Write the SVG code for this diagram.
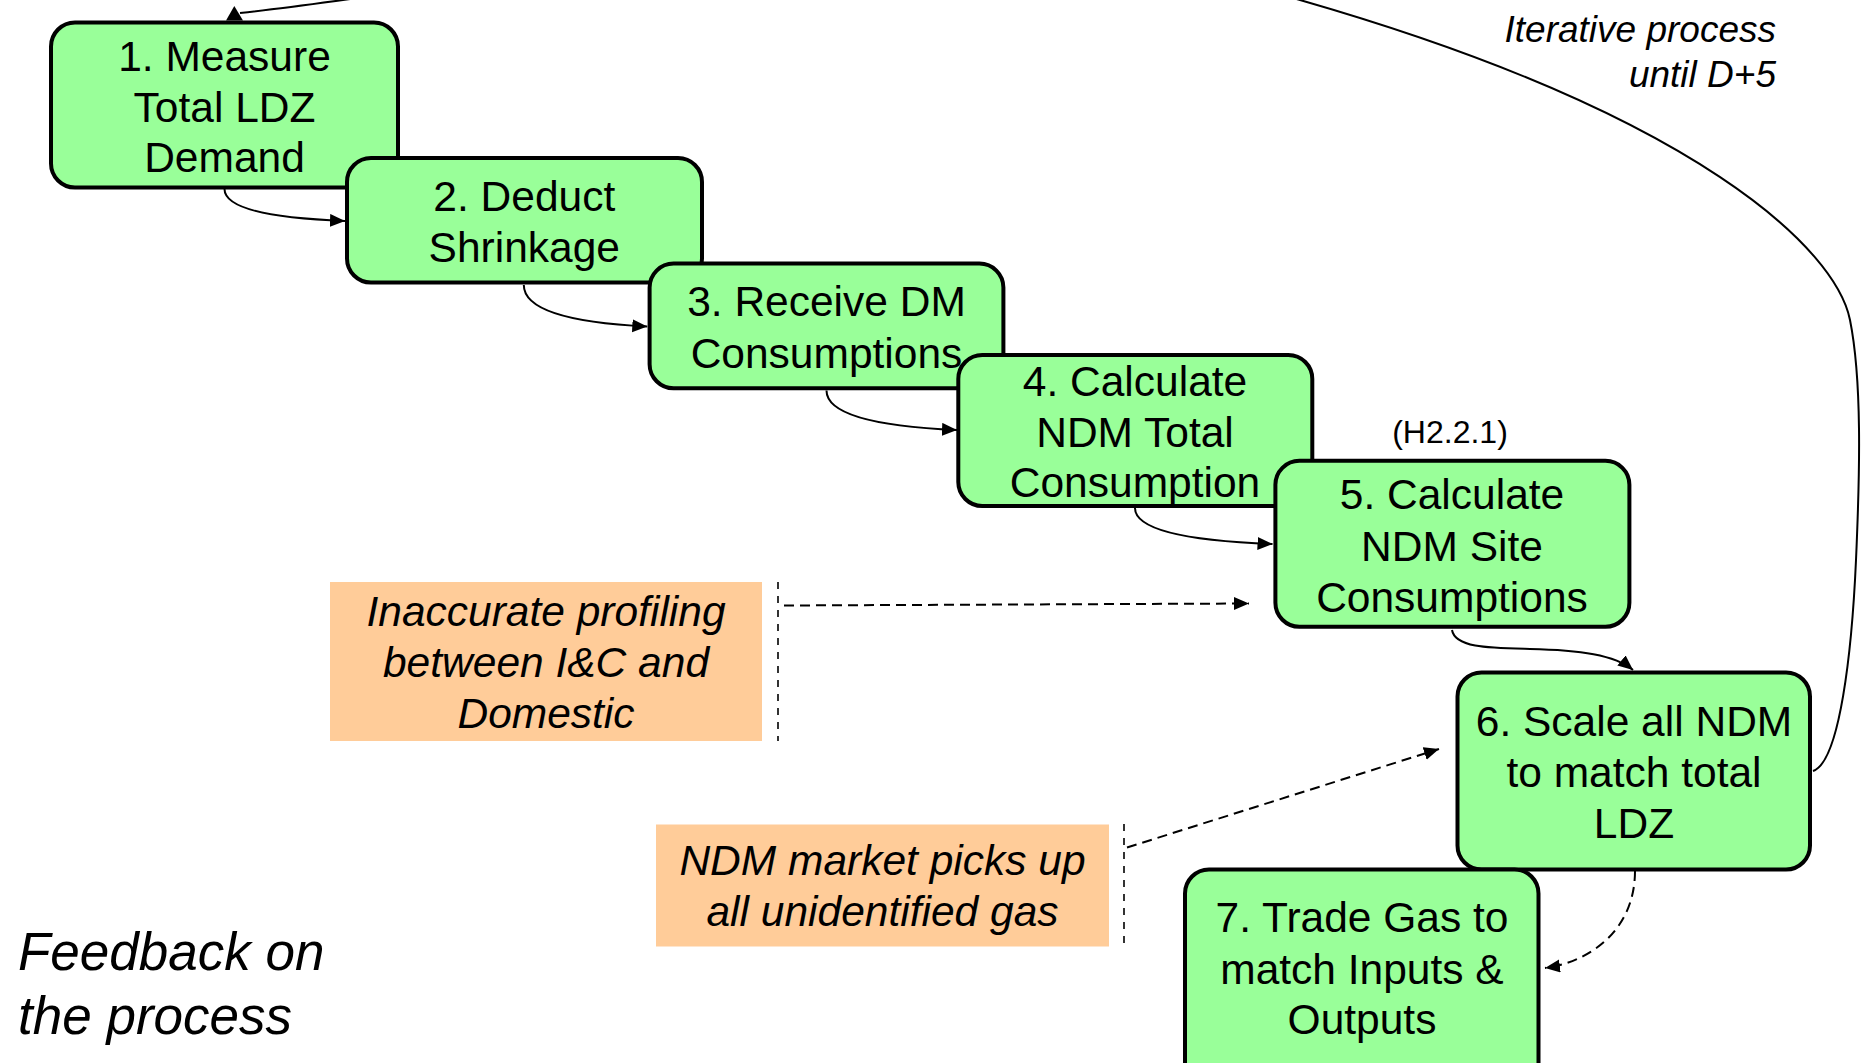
<svg xmlns="http://www.w3.org/2000/svg" width="1862" height="1063" viewBox="0 0 1862 1063">
<defs>
<style>
.box{fill:#99FF99;stroke:#000;stroke-width:4}
.note{fill:#FFCC99;stroke:none}
.t{font-family:"Liberation Sans",Arial,Helvetica,sans-serif;font-size:42.5px;fill:#000;text-anchor:middle}
.i{font-family:"Liberation Sans",Arial,Helvetica,sans-serif;font-style:italic;fill:#000}
.c{fill:none;stroke:#000;stroke-width:2}
.d{fill:none;stroke:#000;stroke-width:2;stroke-dasharray:10 6}
.v{fill:none;stroke:#000;stroke-width:1.6;stroke-dasharray:7 7}
</style>
<marker id="ah" markerUnits="userSpaceOnUse" markerWidth="16" markerHeight="14" refX="15" refY="6.5" orient="auto">
<path d="M0,0 L15,6.5 L0,13 z" fill="#000"/>
</marker>
</defs>
<rect width="1862" height="1063" fill="#fff"/>

<g id="connectors">
<path class="c" d="M1813,771 C1840,762 1852,650 1856,560 C1860,470 1862,380 1850,320 C1836,250 1700,115 1300,0 C900,-115 540,-19.5 240,13"/>
<polygon points="234.3,6 226,20.5 243,20.5" fill="#000"/>
<path class="c" marker-end="url(#ah)" d="M224.5,189 C224.5,206.6 260.7,217.8 345,221"/>
<path class="c" marker-end="url(#ah)" d="M523.8,285 C523.8,307.8 560.9,322.3 647.3,326.5"/>
<path class="c" marker-end="url(#ah)" d="M826.5,390.5 C826.5,412.2 865.7,426 957,430"/>
<path class="c" marker-end="url(#ah)" d="M1135,508 C1135,527.8 1176.3,540.4 1272.5,544"/>
<path class="c" marker-end="url(#ah)" d="M1452,630 C1455,648 1490,648 1530,649 C1580,650 1615,655 1633,670"/>
<path class="d" marker-end="url(#ah)" d="M784,605.5 L1249,603.5"/>
<path class="d" marker-end="url(#ah)" d="M1127,847.5 L1439,749"/>
<path class="d" marker-end="url(#ah)" d="M1635,871 C1635,930 1590,962 1545,968"/>
</g>

<g id="node1">
<rect class="box" x="51" y="22.5" width="347" height="165" rx="24"/>
<text class="t" x="224.5" y="70.5">1. Measure</text>
<text class="t" x="224.5" y="121.5">Total LDZ</text>
<text class="t" x="224.5" y="171.5">Demand</text>
</g>
<g id="node2">
<rect class="box" x="347" y="158" width="355" height="124.5" rx="24"/>
<text class="t" x="524.3" y="210.5">2. Deduct</text>
<text class="t" x="524.3" y="261.5">Shrinkage</text>
</g>
<g id="node3">
<rect class="box" x="649.6" y="263.6" width="353.8" height="124.7" rx="24"/>
<text class="t" x="826.5" y="315.5">3. Receive DM</text>
<text class="t" x="826.5" y="368">Consumptions</text>
</g>
<g id="node4">
<rect class="box" x="958.3" y="355" width="354" height="151" rx="24"/>
<text class="t" x="1135" y="395.5">4. Calculate</text>
<text class="t" x="1135" y="446.5">NDM Total</text>
<text class="t" x="1135" y="497">Consumption</text>
</g>
<g id="h221">
<text class="t" style="font-size:32px" x="1450" y="442.5">(H2.2.1)</text>
</g>
<g id="node5">
<rect class="box" x="1275.4" y="460.8" width="354" height="166" rx="24"/>
<text class="t" x="1452" y="509">5. Calculate</text>
<text class="t" x="1452" y="561">NDM Site</text>
<text class="t" x="1452" y="611.5">Consumptions</text>
</g>
<g id="node6">
<rect class="box" x="1457.5" y="672.5" width="352.5" height="197" rx="24"/>
<text class="t" x="1634" y="735.5">6. Scale all NDM</text>
<text class="t" x="1634" y="786.5">to match total</text>
<text class="t" x="1634" y="837.5">LDZ</text>
</g>
<g id="node7">
<rect class="box" x="1185" y="869.5" width="353.5" height="220" rx="24"/>
<text class="t" x="1362" y="931.5">7. Trade Gas to</text>
<text class="t" x="1362" y="984">match Inputs &amp;</text>
<text class="t" x="1362" y="1034">Outputs</text>
</g>

<g id="note1">
<rect class="note" x="330" y="582" width="432" height="159"/>
<line class="v" x1="778" y1="582" x2="778" y2="741"/>
<text class="i" style="font-size:42.5px;text-anchor:middle" x="546" y="625.5">Inaccurate profiling</text>
<text class="i" style="font-size:42.5px;text-anchor:middle" x="546" y="676.5">between I&amp;C and</text>
<text class="i" style="font-size:42.5px;text-anchor:middle" x="546" y="728">Domestic</text>
</g>
<g id="note2">
<rect class="note" x="656" y="824.5" width="453" height="122"/>
<line class="v" x1="1124" y1="824" x2="1124" y2="944"/>
<text class="i" style="font-size:42.5px;text-anchor:middle" x="882.5" y="875">NDM market picks up</text>
<text class="i" style="font-size:42.5px;text-anchor:middle" x="882.5" y="925.5">all unidentified gas</text>
</g>
<g id="iterative">
<text class="i" style="font-size:37px;text-anchor:end" x="1776" y="41.5">Iterative process</text>
<text class="i" style="font-size:37px;text-anchor:end" x="1776" y="87">until D+5</text>
</g>
<g id="feedback">
<text class="i" style="font-size:53px" x="18" y="969.5">Feedback on</text>
<text class="i" style="font-size:53px" x="18" y="1034">the process</text>
</g>
</svg>
